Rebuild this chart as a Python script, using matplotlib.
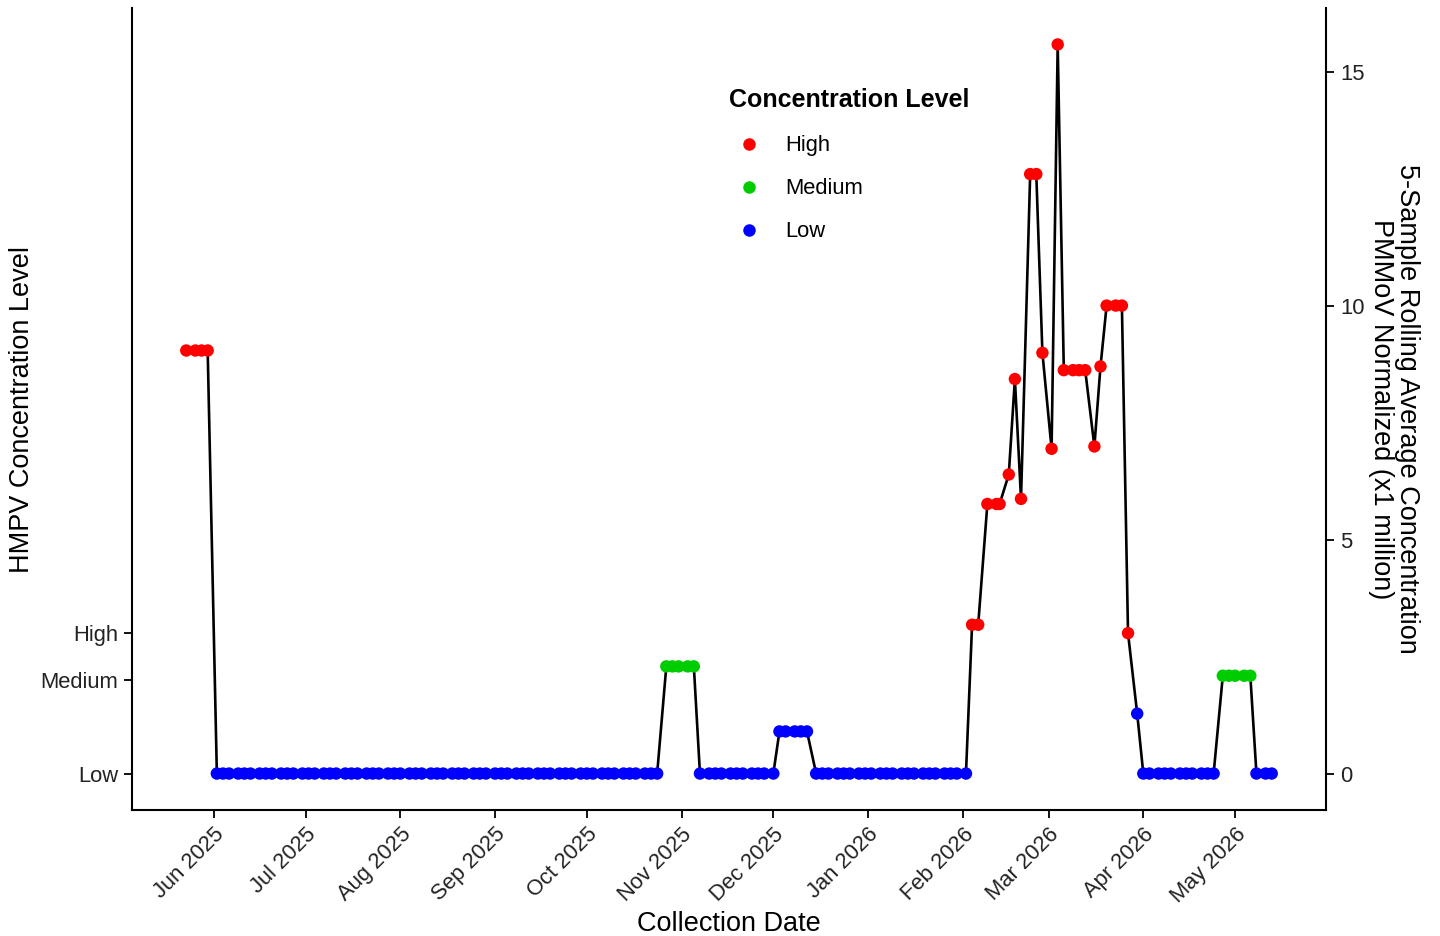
import matplotlib
matplotlib.use("Agg")
import matplotlib.pyplot as plt
import matplotlib.dates as mdates
from matplotlib.lines import Line2D
import pandas as pd

plt.rcParams['font.family'] = ['Liberation Sans', 'DejaVu Sans']

# ---------------- data ----------------
dates = [
    "2025-05-23", "2025-05-26", "2025-05-28", "2025-05-30",
    "2025-06-02", "2025-06-04", "2025-06-06", "2025-06-09", "2025-06-11", "2025-06-13",
    "2025-06-16", "2025-06-18", "2025-06-20", "2025-06-23", "2025-06-25", "2025-06-27", "2025-06-30",
    "2025-07-02", "2025-07-04", "2025-07-07", "2025-07-09", "2025-07-11", "2025-07-14", "2025-07-16",
    "2025-07-18", "2025-07-21", "2025-07-23", "2025-07-25", "2025-07-28", "2025-07-30",
    "2025-08-01", "2025-08-04", "2025-08-06", "2025-08-08", "2025-08-11", "2025-08-13", "2025-08-15",
    "2025-08-18", "2025-08-20", "2025-08-22", "2025-08-25", "2025-08-27", "2025-08-29",
    "2025-09-01", "2025-09-03", "2025-09-05", "2025-09-08", "2025-09-10", "2025-09-12", "2025-09-15",
    "2025-09-17", "2025-09-19", "2025-09-22", "2025-09-24", "2025-09-26", "2025-09-29",
    "2025-10-01", "2025-10-03", "2025-10-06", "2025-10-08", "2025-10-10", "2025-10-13", "2025-10-15",
    "2025-10-17", "2025-10-20", "2025-10-22", "2025-10-24", "2025-10-27", "2025-10-29", "2025-10-31",
    "2025-11-03", "2025-11-05", "2025-11-07", "2025-11-10", "2025-11-12", "2025-11-14", "2025-11-17",
    "2025-11-19", "2025-11-21", "2025-11-24", "2025-11-26", "2025-11-28",
    "2025-12-01", "2025-12-03", "2025-12-05", "2025-12-08", "2025-12-10", "2025-12-12", "2025-12-15",
    "2025-12-17", "2025-12-19", "2025-12-22", "2025-12-24", "2025-12-26", "2025-12-29", "2025-12-31",
    "2026-01-02", "2026-01-05", "2026-01-07", "2026-01-09", "2026-01-12", "2026-01-14", "2026-01-16",
    "2026-01-19", "2026-01-21", "2026-01-23", "2026-01-26", "2026-01-28", "2026-01-30",
    "2026-02-02", "2026-02-04", "2026-02-06", "2026-02-09", "2026-02-12", "2026-02-13", "2026-02-16",
    "2026-02-18", "2026-02-20", "2026-02-23", "2026-02-25", "2026-02-27",
    "2026-03-02", "2026-03-04", "2026-03-06", "2026-03-09", "2026-03-11", "2026-03-13", "2026-03-16",
    "2026-03-18", "2026-03-20", "2026-03-23", "2026-03-25", "2026-03-27", "2026-03-30",
    "2026-04-01", "2026-04-03", "2026-04-06", "2026-04-08", "2026-04-10", "2026-04-13", "2026-04-15",
    "2026-04-17", "2026-04-20", "2026-04-22", "2026-04-24", "2026-04-27", "2026-04-29",
    "2026-05-01", "2026-05-04", "2026-05-06", "2026-05-08", "2026-05-11", "2026-05-13",
]

concentration = [
    9.04, 9.04, 9.04, 9.04,
    0, 0, 0, 0, 0, 0,
    0, 0, 0, 0, 0, 0, 0,
    0, 0, 0, 0, 0, 0, 0,
    0, 0, 0, 0, 0, 0,
    0, 0, 0, 0, 0, 0, 0,
    0, 0, 0, 0, 0, 0,
    0, 0, 0, 0, 0, 0, 0,
    0, 0, 0, 0, 0, 0,
    0, 0, 0, 0, 0, 0, 0,
    0, 0, 0, 0, 2.29, 2.29, 2.29,
    2.29, 2.29, 0, 0, 0, 0, 0,
    0, 0, 0, 0, 0,
    0, 0.90, 0.90, 0.90, 0.90, 0.90, 0,
    0, 0, 0, 0, 0, 0, 0,
    0, 0, 0, 0, 0, 0, 0,
    0, 0, 0, 0, 0, 0,
    0, 3.18, 3.18, 5.76, 5.76, 5.76, 6.39,
    8.43, 5.87, 12.81, 12.81, 8.99,
    6.94, 15.58, 8.62, 8.62, 8.62, 8.62, 6.99,
    8.70, 10.0, 10.0, 10.0, 3.0, 1.28,
    0, 0, 0, 0, 0, 0, 0,
    0, 0, 0, 0, 2.09, 2.09,
    2.09, 2.09, 2.09, 0, 0, 0,
]

level_names = ["High", "Medium", "Low"]
level_colors = {"High": "#FF0000", "Medium": "#00CD00", "Low": "#0000FF"}
level_ticks = [0, 2, 3]              # positions of Low / Medium / High labels
level_tick_labels = ["Low", "Medium", "High"]
right_ticks = [0, 5, 10, 15]
month_ticks = pd.date_range("2025-06-01", "2026-05-01", freq="MS")

df = pd.DataFrame({"date": pd.to_datetime(dates), "value": concentration})
df["level"] = ["High" if v >= 3 else ("Medium" if v >= 2 else "Low") for v in df["value"]]

# ---------------- figure ----------------
fig = plt.figure(figsize=(14.4, 9.36), dpi=100)
ax = fig.add_axes([132 / 1440, 1 - 810 / 936, (1326 - 132) / 1440, (810 - 8) / 936])

TXT = 15.8
TITLE = 19.5
tick_color = "#222222"

ax.plot(df["date"], df["value"], color="black", lw=1.9, zorder=2)
for lvl in level_names:
    sub = df[df["level"] == lvl]
    ax.scatter(sub["date"], sub["value"], s=80, color=level_colors[lvl],
               edgecolors="none", zorder=3)

span = df["date"].max() - df["date"].min()
ax.set_xlim(df["date"].min() - span * 0.05, df["date"].max() + span * 0.05)
vmax = df["value"].max()
ax.set_ylim(-vmax * 0.05, vmax * 1.05)

ax.set_xticks(month_ticks)
ax.xaxis.set_major_formatter(mdates.DateFormatter("%b %Y"))
for lab in ax.get_xticklabels():
    lab.set_rotation(45)
    lab.set_ha("right")
    lab.set_va("top")
    lab.set_rotation_mode("anchor")

ax.set_yticks(level_ticks)
ax.set_yticklabels(level_tick_labels)
ax.tick_params(axis="both", labelsize=TXT, colors="black", labelcolor=tick_color,
               length=6, width=1.3, direction="out", pad=4)

for s in ["top", "right"]:
    ax.spines[s].set_visible(False)
for s in ["left", "bottom"]:
    ax.spines[s].set_linewidth(1.5)

ax.set_xlabel("Collection Date", fontsize=TITLE, labelpad=3)
ax.set_ylabel("HMPV Concentration Level", fontsize=TITLE, labelpad=3.5)

ax2 = ax.twinx()
ax2.set_ylim(ax.get_ylim())
ax2.set_yticks(right_ticks)
ax2.tick_params(axis="y", labelsize=TXT, labelcolor=tick_color, length=6, width=1.3, pad=4)
for s in ["top", "left", "bottom"]:
    ax2.spines[s].set_visible(False)
ax2.spines["right"].set_linewidth(1.5)
ax2.set_ylabel("5-Sample Rolling Average Concentration\nPMMoV Normalized (x1 million)",
               fontsize=TITLE, rotation=270, labelpad=40, linespacing=1.0)

handles = [Line2D([0], [0], marker="o", linestyle="none", markersize=9,
                  markerfacecolor=level_colors[l], markeredgecolor="none")
           for l in level_names]
leg = ax2.legend(handles, level_names, loc="upper left",
                 bbox_to_anchor=(720 / 1440, 1 - 79 / 936), bbox_transform=fig.transFigure,
                 frameon=False, fontsize=TXT, title="Concentration Level",
                 title_fontproperties={"weight": "bold", "size": 18},
                 alignment="left", labelspacing=1.0, handletextpad=0.72,
                 handlelength=1.85, borderaxespad=0)
leg._legend_box.sep = 17

fig.savefig("out.png", dpi=100, facecolor="white")
